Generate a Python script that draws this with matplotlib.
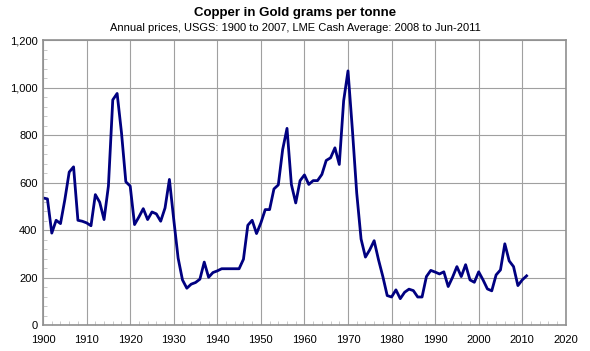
import matplotlib
matplotlib.use('Agg')
import matplotlib.pyplot as plt
from matplotlib.ticker import MultipleLocator, FuncFormatter

plt.rcParams['font.family'] = ['Liberation Sans', 'DejaVu Sans']

# copper price in gold grams per tonne, one value per year
years = list(range(1900, 2012))
values = [
    535, 531, 387, 441, 427, 528, 644, 666, 441, 437,   # 1900s
    430, 418, 549, 517, 444, 585, 948, 975, 810, 603,   # 1910s
    585, 423, 455, 490, 444, 476, 468, 437, 493, 613,   # 1920s
    444, 282, 190, 155, 172, 179, 193, 265, 201, 221,   # 1930s
    228, 237, 237, 237, 237, 237, 277, 420, 441, 385,   # 1940s
    430, 486, 486, 573, 590, 739, 828, 592, 514, 608,   # 1950s
    632, 592, 608, 608, 634, 693, 704, 746, 676, 944,   # 1960s
    1070, 824, 556, 362, 286, 317, 355, 275, 204, 124,  # 1970s
    118, 148, 111, 138, 151, 145, 118, 118, 204, 230,   # 1980s
    223, 215, 224, 162, 201, 246, 204, 254, 190, 180,   # 1990s
    224, 190, 152, 144, 211, 232, 342, 270, 246, 166,   # 2000s
    190, 207,                                           # 2010-2011
]

fig = plt.figure(figsize=(5.9, 3.51), dpi=100)
ax = fig.add_axes([0.073, 0.074, 0.886, 0.812])

ax.plot(years, values, color='#000080', lw=2)

ax.set_xlim(1900, 2020)
ax.set_ylim(0, 1200)
ax.xaxis.set_major_locator(MultipleLocator(10))
ax.xaxis.set_minor_locator(MultipleLocator(2))
ax.yaxis.set_major_locator(MultipleLocator(200))
ax.yaxis.set_minor_locator(MultipleLocator(40))
ax.yaxis.set_major_formatter(FuncFormatter(lambda v, p: f'{int(v):,}'))

ax.grid(True, which='major', color='#a0a0a0', lw=0.8)
ax.tick_params(which='major', length=0, labelsize=8)
ax.tick_params(axis='x', which='major', pad=7)
ax.tick_params(axis='y', which='major', pad=4)
ax.tick_params(which='minor', direction='in', length=3, color='#c0c0c0')
for s in ax.spines.values():
    s.set_color('#909090')
    s.set_linewidth(1.2)

fig.text(0.5, 0.963, 'Copper in Gold grams per tonne', ha='center', va='center',
         fontsize=9.5, fontweight='bold')
fig.text(0.5, 0.92, 'Annual prices, USGS: 1900 to 2007, LME Cash Average: 2008 to Jun-2011',
         ha='center', va='center', fontsize=8)

fig.savefig('out.png', dpi=100)
